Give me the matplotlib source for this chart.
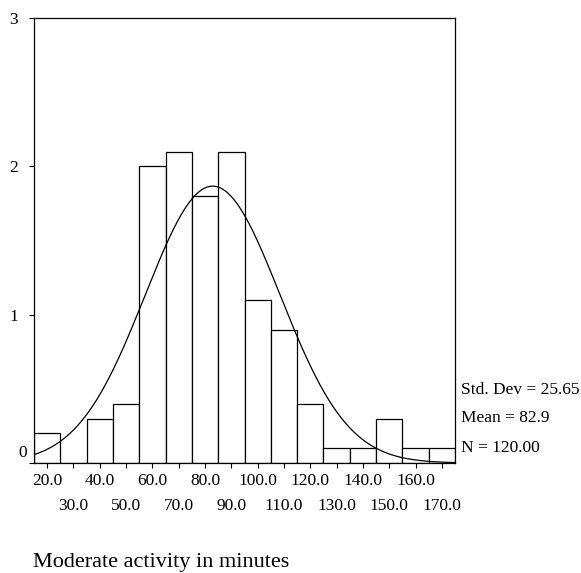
import numpy as np
import matplotlib
matplotlib.use("Agg")
import matplotlib.pyplot as plt

plt.rcParams['font.family'] = ['Liberation Serif', 'DejaVu Serif']

# Data (bin centres, heights in units of count/10)
bin_centers = [20, 30, 40, 50, 60, 70, 80, 90, 100, 110, 120, 130, 140, 150, 160, 170]
heights = [0.2, 0.0, 0.3, 0.4, 2.0, 2.1, 1.8, 2.1, 1.1, 0.9, 0.4, 0.1, 0.1, 0.3, 0.1, 0.1]
bin_width = 10
std_dev = 25.65
mean = 82.9
n = 120
y_ticks = [0, 1, 2, 3]
x_major = [20, 40, 60, 80, 100, 120, 140, 160]
x_minor = [30, 50, 70, 90, 110, 130, 150, 170]

fig = plt.figure(figsize=(5.81, 5.73), dpi=100)
ax = fig.add_axes([34/581, 1-463/573, (455-34)/581, (463-18)/573])

ax.bar(bin_centers, heights, width=bin_width, facecolor='white', edgecolor='black', linewidth=0.9)

xs = np.linspace(15, 175, 400)
ys = n * np.exp(-0.5*((xs-mean)/std_dev)**2) / (std_dev*np.sqrt(2*np.pi))
ax.plot(xs, ys, color='black', linewidth=0.9)

ax.set_xlim(15, 175)
ax.set_ylim(0, 3)
ax.set_yticks(y_ticks)
ax.set_yticklabels(['' if v == 0 else str(v) for v in y_ticks])
# the zero label sits slightly up and to the right, as in the original
fig.text(27/581, 1-453/573, str(y_ticks[0]), fontsize=12.5, ha='right', va='center')

ax.set_xticks(x_major)
ax.set_xticklabels([f"{v:.1f}" for v in x_major])
ax.set_xticks(x_minor, minor=True)
ax.set_xticklabels([f"{v:.1f}" for v in x_minor], minor=True)
ax.tick_params(axis='both', which='both', direction='out', length=3.5, width=0.8, labelsize=12.5)
ax.tick_params(axis='x', which='major', pad=4)
ax.tick_params(axis='x', which='minor', pad=22)
ax.tick_params(axis='y', pad=8)
for s in ax.spines.values():
    s.set_linewidth(0.9)

fig.text(461/581, 1-390/573, f"Std. Dev = {std_dev:.2f}", fontsize=12.5, va='center', ha='left')
fig.text(461/581, 1-418/573, f"Mean = {mean:.1f}", fontsize=12.5, va='center', ha='left')
fig.text(461/581, 1-448/573, f"N = {n:.2f}", fontsize=12.5, va='center', ha='left')
fig.text(33/581, 1-563/573, "Moderate activity in minutes", fontsize=16, va='center', ha='left')

fig.savefig("out.png", dpi=100)
